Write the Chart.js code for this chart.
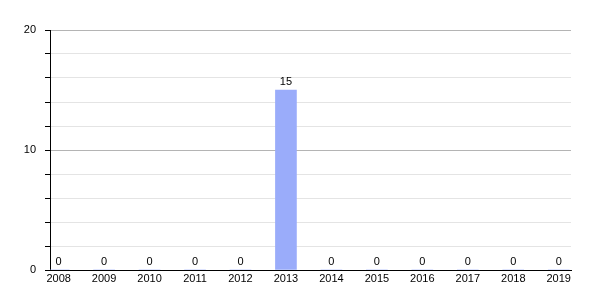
<!DOCTYPE html>
<html>
<head>
<meta charset="utf-8">
<script src="https://cdn.jsdelivr.net/npm/chart.js@4/dist/chart.umd.min.js"></script>
<style>
  html, body { margin: 0; padding: 0; background: #fff; }
</style>
</head>
<body>
<canvas id="chart" width="600" height="300"></canvas>
<script>
const years = [2008, 2009, 2010, 2011, 2012, 2013, 2014, 2015, 2016, 2017, 2018, 2019];
const counts = [0, 0, 0, 0, 0, 15, 0, 0, 0, 0, 0, 0];
const yMax = 20;
const yStep = 2;
const yLabelStep = 10;

const ctx = document.getElementById("chart");

const valueLabels = {
    id: 'valueLabels',
    afterDatasetsDraw(chart) {
        const c = chart.ctx;
        const meta = chart.getDatasetMeta(0);
        c.save();
        c.font = '11px "Liberation Sans", Arial, sans-serif';
        c.fillStyle = '#000';
        c.textAlign = 'center';
        c.textBaseline = 'bottom';
        meta.data.forEach((bar, i) => {
            c.fillText(String(counts[i]), bar.x, bar.y - 3);
        });
        c.restore();
    }
};

let chart = new Chart(ctx, {
    type: 'bar',
    data: {
        datasets: [{
            data: years.map((y, i) => ({ x: y, y: counts[i] })),
            backgroundColor: '#9aacfa',
            borderWidth: 0,
            barThickness: 21,
        }]
    },
    options: {
        responsive: false,
        animation: false,
        layout: { padding: { top: 30, right: 29, left: 0, bottom: 0 } },
        plugins: {
            legend: { display: false },
            tooltip: { enabled: false },
        },
        scales: {
            x: {
                type: 'linear',
                min: 2007.81,
                max: 2019.27,
                offset: false,
                afterBuildTicks: (scale) => { scale.ticks = years.map((v) => ({ value: v })); },
                afterFit: (scale) => { scale.height = 30; },
                grid: { display: false, drawTicks: false, tickLength: 0 },
                border: { display: true, color: '#000', width: 1 },
                ticks: {
                    autoSkip: false,
                    maxRotation: 0,
                    padding: 2,
                    color: '#000',
                    font: { family: '"Liberation Sans", Arial, sans-serif', size: 11 },
                    callback: (v) => String(v),
                },
            },
            y: {
                min: 0,
                max: yMax,
                afterFit: (scale) => { scale.width = 50; },
                border: { display: true, color: '#000', width: 1 },
                grid: {
                    color: (c) => c.tick && c.tick.value % yLabelStep === 0 ? '#b4b4b4' : '#e4e4e4',
                    tickColor: '#000',
                    tickLength: 5,
                },
                ticks: {
                    stepSize: yStep,
                    padding: 9,
                    color: '#000',
                    font: { family: '"Liberation Sans", Arial, sans-serif', size: 11 },
                    callback: (v) => v % yLabelStep === 0 ? String(v) : '',
                },
            },
        },
    },
    plugins: [valueLabels],
});
</script>
</body>
</html>
